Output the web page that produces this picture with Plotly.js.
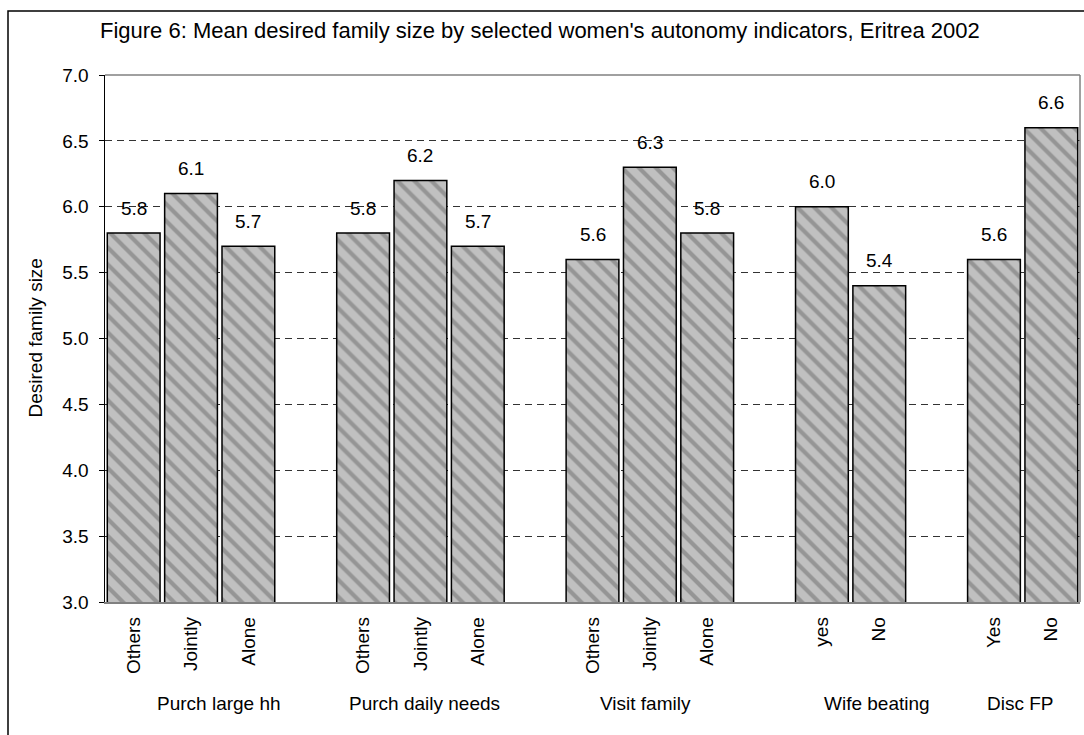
<!DOCTYPE html>
<html>
<head>
<meta charset="utf-8">
<script src="https://cdn.plot.ly/plotly-3.0.1.min.js"></script>
<style>html,body{margin:0;padding:0;background:#fff;}#chart{width:1084px;height:735px;}</style>
</head>
<body>
<div id="chart"></div>
<script>
// ---- Data ----
const groupNames = ["Purch large hh", "Purch daily needs", "Visit family", "Wife beating", "Disc FP"];
const purchLargeLabels = ["Others", "Jointly", "Alone"];
const purchLargeValues = [5.8, 6.1, 5.7];
const purchDailyLabels = ["Others", "Jointly", "Alone"];
const purchDailyValues = [5.8, 6.2, 5.7];
const visitFamilyLabels = ["Others", "Jointly", "Alone"];
const visitFamilyValues = [5.6, 6.3, 5.8];
const wifeBeatingLabels = ["yes", "No"];
const wifeBeatingValues = [6.0, 5.4];
const discFPLabels = ["Yes", "No"];
const discFPValues = [5.6, 6.6];
const yTickVals = [3.0, 3.5, 4.0, 4.5, 5.0, 5.5, 6.0, 6.5, 7.0];

const groupLabels = [purchLargeLabels, purchDailyLabels, visitFamilyLabels, wifeBeatingLabels, discFPLabels];
const groupValues = [purchLargeValues, purchDailyValues, visitFamilyValues, wifeBeatingValues, discFPValues];

// ---- Build category slots (with an empty slot between groups) ----
const xs = [], ys = [], tickvals = [], ticktext = [], catArray = [];
const groupCenters = [];
let slot = 0;
groupLabels.forEach((labels, g) => {
  const start = slot;
  labels.forEach((lab, i) => {
    const id = "g" + g + "_" + i;
    xs.push(id); ys.push(groupValues[g][i]);
    tickvals.push(id); ticktext.push(lab); catArray.push(id);
    slot++;
  });
  groupCenters.push((start + slot - 1) / 2);
  if (g < groupLabels.length - 1) { catArray.push("gap" + g); slot++; }
});
const nSlots = slot;

// ---- Geometry (pixels) ----
const W = 1084, H = 735;
const L = 105, R = 1080, T = 75, B = 602;
const pw = R - L, ph = B - T;
const px = v => (v - L) / pw;
const py = v => (B - v) / ph;
const FONT = "Liberation Sans, Arial, sans-serif";

const annotations = [];
xs.forEach((x, i) => {
  annotations.push({
    x: x, y: ys[i], xref: "x", yref: "y", text: ys[i].toFixed(1),
    showarrow: false, yanchor: "middle", yshift: 25,
    font: {family: FONT, size: 19, color: "#000"}
  });
});
const groupShift = [28, 4, -4, 26, -2];
groupNames.forEach((name, g) => {
  annotations.push({
    x: groupCenters[g], y: py(703), xref: "x", yref: "paper", text: name,
    showarrow: false, xanchor: "center", yanchor: "middle", xshift: groupShift[g],
    font: {family: FONT, size: 19, color: "#000"}
  });
});
annotations.push({
  x: px(35), y: py((T + B) / 2), xref: "paper", yref: "paper",
  text: "Desired family size", textangle: -90, showarrow: false,
  xanchor: "center", yanchor: "middle",
  font: {family: FONT, size: 19, color: "#000"}
});

const trace = {
  type: "bar", x: xs, y: ys,
  marker: {
    color: "#c0c0c0",
    line: {color: "#000", width: 1.5},
    pattern: {shape: "\\", bgcolor: "#c0c0c0", fgcolor: "#959595", size: 12, solidity: 0.35}
  },
  hoverinfo: "x+y"
};

const layout = {
  width: W, height: H,
  margin: {l: L, r: W - R, t: T, b: H - B, pad: 0},
  paper_bgcolor: "#fff", plot_bgcolor: "#fff",
  showlegend: false,
  bargap: 0.08,
  font: {family: FONT, size: 19, color: "#000"},
  title: {
    text: "Figure 6: Mean desired family size by selected women's autonomy indicators, Eritrea 2002",
    x: 0.498, xref: "container", y: 1 - 30 / H, yref: "container", xanchor: "center", yanchor: "middle",
    font: {family: FONT, size: 22, color: "#000"}
  },
  xaxis: {
    type: "category", categoryorder: "array", categoryarray: catArray,
    range: [-0.5, nSlots - 0.5],
    tickmode: "array", tickvals: tickvals, ticktext: ticktext, tickangle: -90,
    ticks: "", showgrid: false, zeroline: false,
    showline: true, linecolor: "#808080", linewidth: 1.5,
    ticklabelstandoff: 6,
    tickfont: {family: FONT, size: 19, color: "#000"},
    fixedrange: true
  },
  yaxis: {
    range: [3, 7], tickmode: "array", tickvals: yTickVals,
    tickformat: ".1f",
    ticks: "outside", ticklen: 5, tickcolor: "#000", tickwidth: 1,
    showline: true, linecolor: "#000", linewidth: 1.5,
    showgrid: true, gridcolor: "#333", gridwidth: 1, griddash: "7px,5px",
    zeroline: false,
    ticklabelstandoff: 6,
    tickfont: {family: FONT, size: 19, color: "#000"},
    fixedrange: true
  },
  annotations: annotations,
  shapes: [
    {type: "line", xref: "paper", yref: "paper", x0: 0, x1: 1, y0: 1, y1: 1, line: {color: "#808080", width: 1.5}, layer: "above"},
    {type: "line", xref: "paper", yref: "paper", x0: 1, x1: 1, y0: 0, y1: 1, line: {color: "#808080", width: 1.5}, layer: "above"},
    {type: "rect", xref: "paper", yref: "paper", x0: px(8), x1: px(1095), y0: py(11), y1: py(745), line: {color: "#000", width: 1.5}, fillcolor: "rgba(0,0,0,0)", layer: "above"}
  ]
};

Plotly.newPlot("chart", [trace], layout, {displayModeBar: false, staticPlot: true});
</script>
</body>
</html>
